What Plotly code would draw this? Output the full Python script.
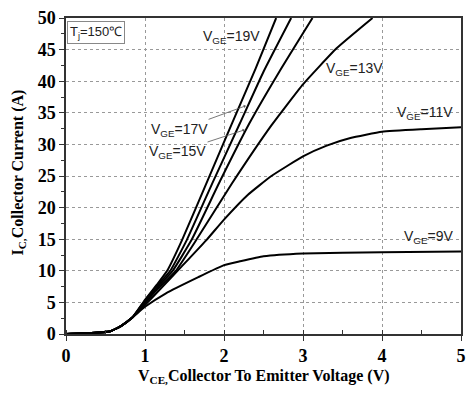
import plotly.graph_objects as go

# ---- data ----
vce_19 = [0, 0.3, 0.55, 0.7, 0.84, 1.0, 1.15, 1.28, 1.47, 1.8, 2.1, 2.4, 2.66]
ic_19 = [0, 0.15, 0.4, 1.3, 2.6, 5.4, 7.8, 10.0, 14.9, 24.5, 33.3, 42.0, 50.0]

vce_17 = [0, 0.3, 0.55, 0.7, 0.84, 1.0, 1.15, 1.32, 1.53, 1.85, 2.2, 2.5, 2.85]
ic_17 = [0, 0.15, 0.4, 1.3, 2.6, 5.3, 7.6, 10.0, 14.9, 23.8, 33.3, 41.5, 50.0]

vce_15 = [0, 0.3, 0.55, 0.7, 0.84, 1.0, 1.15, 1.35, 1.59, 1.95, 2.32, 2.7, 3.12]
ic_15 = [0, 0.15, 0.4, 1.3, 2.6, 5.1, 7.3, 10.0, 14.9, 24.2, 33.3, 41.5, 50.0]

vce_13 = [0, 0.3, 0.55, 0.7, 0.84, 1.0, 1.15, 1.39, 1.65, 2.1, 2.6, 3.0, 3.425, 3.88]
ic_13 = [0, 0.15, 0.4, 1.3, 2.6, 4.9, 7.0, 10.0, 14.9, 23.8, 33.0, 39.5, 45.2, 50.0]

vce_11 = [0, 0.3, 0.55, 0.7, 0.84, 1.0, 1.2, 1.45, 1.78, 2.0, 2.3, 2.6, 3.0, 3.3, 3.6, 4.0, 4.5, 5.0]
ic_11 = [0, 0.15, 0.4, 1.3, 2.6, 4.6, 7.2, 10.5, 14.9, 18.1, 22.0, 25.0, 28.1, 29.8, 31.0, 32.0, 32.4, 32.7]

vce_9 = [0, 0.3, 0.55, 0.7, 0.84, 1.0, 1.26, 1.675, 2.0, 2.2, 2.5, 3.0, 4.0, 5.0]
ic_9 = [0, 0.15, 0.4, 1.3, 2.6, 4.3, 6.4, 9.0, 10.9, 11.5, 12.3, 12.75, 12.95, 13.05]

x_ticks = [0, 1, 2, 3, 4, 5]
y_ticks = [0, 5, 10, 15, 20, 25, 30, 35, 40, 45, 50]

series = [
    ("19V", vce_19, ic_19),
    ("17V", vce_17, ic_17),
    ("15V", vce_15, ic_15),
    ("13V", vce_13, ic_13),
    ("11V", vce_11, ic_11),
    ("9V", vce_9, ic_9),
]

fig = go.Figure()
for name, xs, ys in series:
    fig.add_trace(go.Scatter(
        x=xs, y=ys, mode="lines", name=name,
        line=dict(color="black", width=2, shape="spline", smoothing=0.4),
        showlegend=False,
    ))

lab_font = dict(family="Liberation Sans, Arial, sans-serif", size=14, color="#222")

# curve labels (no arrows)
for txt, x, y in [("V<sub>GE</sub>=19V", 2.1, 47.0),
                  ("V<sub>GE</sub>=13V", 3.65, 42.0),
                  ("V<sub>GE</sub>=11V", 4.54, 34.9),
                  ("V<sub>GE</sub>=9V", 4.59, 15.3)]:
    fig.add_annotation(x=x, y=y, text=txt, showarrow=False, font=lab_font,
                       xanchor="center", yanchor="middle")

# labels with leader lines
for txt, x, y, ax, ay in [("V<sub>GE</sub>=17V", 2.275, 36.1, -66, 24),
                          ("V<sub>GE</sub>=15V", 2.26, 32.3, -67, 22)]:
    fig.add_annotation(x=x, y=y, text=txt, showarrow=True, ax=ax, ay=ay,
                       arrowhead=1, arrowsize=0.8, arrowwidth=0.8, arrowcolor="#555",
                       font=lab_font)

# Tj box
fig.add_annotation(xref="paper", yref="paper", x=0.077, y=0.954,
                   text="T<sub>j</sub>=150℃", showarrow=False,
                   font=dict(family="Liberation Sans, Arial, sans-serif", size=13, color="#222"),
                   xanchor="center", yanchor="middle",
                   bordercolor="#888", borderwidth=1, borderpad=2, bgcolor="white")

title_font = dict(family="Liberation Serif, Times New Roman, serif", size=16,
                  color="black", weight="bold")
fig.add_annotation(xref="paper", yref="paper", x=0.5, y=-0.135,
                   text="V<sub>CE,</sub>Collector To Emitter Voltage (V)",
                   showarrow=False, font=title_font, xanchor="center", yanchor="middle")
fig.add_annotation(xref="paper", yref="paper", x=-0.12, y=0.51,
                   text="I<sub>C,</sub>Collector Current (A)", textangle=-90,
                   showarrow=False, font=title_font, xanchor="center", yanchor="middle")

tick_font = dict(family="Liberation Serif, Times New Roman, serif", size=18,
                 color="black", weight="bold")

fig.update_xaxes(
    range=[0, 5], tickvals=x_ticks, ticktext=[str(v) for v in x_ticks],
    showgrid=True, gridcolor="#999", griddash="dot", gridwidth=1,
    showline=True, linecolor="#333", linewidth=1.5, mirror=True,
    ticks="outside", ticklen=5, tickwidth=1.2, tickcolor="#333",
    minor=dict(dtick=0.5, ticks="inside", ticklen=4, tickcolor="#333", showgrid=False),
    tickfont=tick_font, zeroline=False,
)
fig.update_yaxes(
    range=[0, 50], tickvals=y_ticks, ticktext=[str(v) for v in y_ticks],
    showgrid=True, gridcolor="#999", griddash="dot", gridwidth=1,
    showline=True, linecolor="#333", linewidth=1.5, mirror=True,
    ticks="outside", ticklen=5, tickwidth=1.2, tickcolor="#333",
    minor=dict(dtick=2.5, ticks="outside", ticklen=3, tickcolor="#333", showgrid=False),
    tickfont=tick_font, zeroline=False,
)

fig.update_layout(
    width=474, height=401,
    margin=dict(l=66, r=8, t=13, b=67),
    plot_bgcolor="white", paper_bgcolor="white",
)

fig.write_html("out.html")
